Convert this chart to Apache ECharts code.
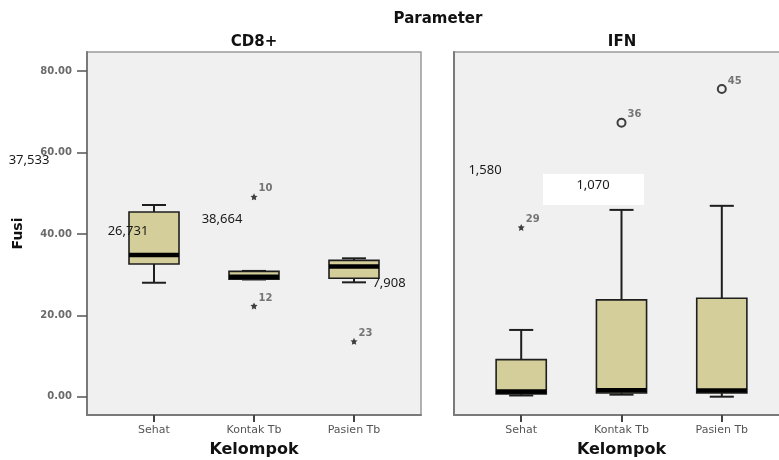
<!DOCTYPE html>
<html>
<head>
<meta charset="utf-8">
<script src="https://cdn.jsdelivr.net/npm/echarts@6/dist/echarts.min.js"></script>
<style>html,body{margin:0;padding:0;background:#fff}#c{width:779px;height:460px}</style>
</head>
<body>
<div id="c"></div>
<script>
var categories = ['Sehat', 'Kontak Tb', 'Pasien Tb'];
var yTicks = [0, 20, 40, 60, 80];
// [min, Q1, median, Q3, max]
var cd8Stats = [
  [28.0, 32.6, 34.8, 45.4, 47.1],
  [28.8, 28.9, 29.5, 30.8, 30.9],
  [28.1, 29.1, 32.0, 33.5, 34.0]
];
var ifnStats = [
  [0.3, 0.7, 1.3, 9.1, 16.4],
  [0.5, 0.9, 1.6, 23.8, 45.9],
  [0.0, 0.9, 1.5, 24.2, 46.9]
];
// [category index, value, case id]
var cd8Extremes = [[1, 49.1, '10'], [1, 22.3, '12'], [2, 13.6, '23']];
var ifnExtremes = [[0, 41.6, '29']];
var ifnOutliers = [[1, 67.3, '36'], [2, 75.6, '45']];
var annotations = [
  ['37,533', 29, 160], ['26,731', 128, 231], ['38,664', 222, 219],
  ['7,908', 389, 283], ['1,580', 485, 170], ['1,070', 593, 185]
];

var chart = echarts.init(document.getElementById('c'), null, {renderer: 'canvas'});

function boxData(stats) {
  return stats.map(function (s, i) { return [i].concat(s); });
}
function renderBox(params, api) {
  var x = api.value(0);
  var pMin = api.coord([x, api.value(1)]);
  var pQ1 = api.coord([x, api.value(2)]);
  var pMed = api.coord([x, api.value(3)]);
  var pQ3 = api.coord([x, api.value(4)]);
  var pMax = api.coord([x, api.value(5)]);
  var unit = api.size([1, 0])[0];
  var hw = unit * 0.25, cw = unit * 0.12, cx = pMed[0];
  var lineStyle = {stroke: '#1e1e1e', lineWidth: 2};
  return {
    type: 'group',
    children: [
      {type: 'line', shape: {x1: cx, y1: pMax[1], x2: cx, y2: pQ3[1]}, style: lineStyle},
      {type: 'line', shape: {x1: cx, y1: pQ1[1], x2: cx, y2: pMin[1]}, style: lineStyle},
      {type: 'line', shape: {x1: cx - cw, y1: pMax[1], x2: cx + cw, y2: pMax[1]}, style: lineStyle},
      {type: 'line', shape: {x1: cx - cw, y1: pMin[1], x2: cx + cw, y2: pMin[1]}, style: lineStyle},
      {type: 'rect', shape: {x: cx - hw, y: pQ3[1], width: hw * 2, height: pQ1[1] - pQ3[1]},
        style: {fill: '#d4ce9a', stroke: '#1e1e1e', lineWidth: 1.6}},
      {type: 'line', shape: {x1: cx - hw, y1: pMed[1], x2: cx + hw, y2: pMed[1]},
        style: {stroke: '#000', lineWidth: 4.5}}
    ]
  };
}

var star = 'path://M0,-10 L2.9,-4 L9.5,-3.1 L4.7,1.5 L5.9,8.1 L0,5 L-5.9,8.1 L-4.7,1.5 L-9.5,-3.1 L-2.9,-4 Z';
var ptLabel = {
  show: true, position: 'right', distance: 1, offset: [0, -8],
  formatter: function (p) { return p.value[2]; },
  fontFamily: 'DejaVu Sans', fontSize: 10, fontWeight: 'bold', color: '#555'
};

function xAxisCfg(idx) {
  return {
    type: 'value', gridIndex: idx, min: -0.67, max: 2.67,
    name: 'Kelompok', nameLocation: 'middle', nameGap: 27,
    nameTextStyle: {fontFamily: 'DejaVu Sans', fontWeight: 'bold', fontSize: 16, color: '#111'},
    axisLine: {show: true, onZero: false, lineStyle: {color: '#7a7a7a', width: 2}},
    axisTick: {show: true, length: 7, customValues: [0, 1, 2], lineStyle: {color: '#444', width: 2}},
    axisLabel: {customValues: [0, 1, 2], margin: 10, formatter: function (v) { return categories[Math.round(v)]; },
      fontFamily: 'DejaVu Sans', fontSize: 11, color: '#555'},
    splitLine: {show: false}
  };
}

var option = {
  backgroundColor: '#fff',
  animation: false,
  grid: [
    {left: 87, top: 52, width: 334, height: 363, outerBoundsMode: 'none', containLabel: false,
      show: true, backgroundColor: '#f0f0f0', borderColor: '#999', borderWidth: 1.5},
    {left: 454, top: 52, width: 335, height: 363, outerBoundsMode: 'none', containLabel: false,
      show: true, backgroundColor: '#f0f0f0', borderColor: '#999', borderWidth: 1.5}
  ],
  xAxis: [xAxisCfg(0), xAxisCfg(1)],
  yAxis: [
    {
      type: 'value', gridIndex: 0, min: -4.5, max: 84.7,
      name: 'Fusi', nameLocation: 'middle', nameGap: 62,
      nameTextStyle: {fontFamily: 'DejaVu Sans', fontWeight: 'bold', fontSize: 14, color: '#111'},
      axisLine: {show: true, onZero: false, lineStyle: {color: '#7a7a7a', width: 2}},
      axisTick: {show: true, length: 10, customValues: yTicks, lineStyle: {color: '#555', width: 1.5}},
      axisLabel: {customValues: yTicks, margin: 15, formatter: function (v) { return v.toFixed(2); },
        fontFamily: 'DejaVu Sans', fontSize: 10, fontWeight: 'bold', color: '#6a6a6a'},
      splitLine: {show: false}
    },
    {
      type: 'value', gridIndex: 1, min: -4.5, max: 84.7,
      axisLine: {show: true, onZero: false, lineStyle: {color: '#7a7a7a', width: 2}},
      axisTick: {show: false}, axisLabel: {show: false}, splitLine: {show: false}
    }
  ],
  series: [
    {type: 'custom', xAxisIndex: 0, yAxisIndex: 0, renderItem: renderBox, data: boxData(cd8Stats), z: 2},
    {type: 'custom', xAxisIndex: 1, yAxisIndex: 1, renderItem: renderBox, data: boxData(ifnStats), z: 2},
    {type: 'scatter', xAxisIndex: 0, yAxisIndex: 0, symbol: star, symbolSize: 7,
      itemStyle: {color: '#111'}, label: ptLabel, data: cd8Extremes, z: 3},
    {type: 'scatter', xAxisIndex: 1, yAxisIndex: 1, symbol: star, symbolSize: 7,
      itemStyle: {color: '#111'}, label: ptLabel, data: ifnExtremes, z: 3},
    {type: 'scatter', xAxisIndex: 1, yAxisIndex: 1, symbol: 'circle', symbolSize: 8,
      itemStyle: {color: 'transparent', borderColor: '#111', borderWidth: 2}, label: ptLabel, data: ifnOutliers, z: 3}
  ],
  graphic: [
    {type: 'text', x: 438, y: 19, style: {text: 'Parameter', align: 'center', verticalAlign: 'middle',
      font: 'bold 15px "DejaVu Sans"', fill: '#111'}},
    {type: 'text', x: 254, y: 42, style: {text: 'CD8+', align: 'center', verticalAlign: 'middle',
      font: 'bold 15px "DejaVu Sans"', fill: '#111'}},
    {type: 'text', x: 622, y: 42, style: {text: 'IFN', align: 'center', verticalAlign: 'middle',
      font: 'bold 15px "DejaVu Sans"', fill: '#111'}},
    {type: 'rect', shape: {x: 543, y: 174, width: 101, height: 31}, style: {fill: '#fff'}, z: 10}
  ].concat(annotations.map(function (a) {
    return {type: 'text', x: a[1], y: a[2], z: 11, style: {text: a[0], align: 'center', verticalAlign: 'middle',
      font: '13px "Noto Sans"', fill: '#1a1a1a'}};
  }))
};
chart.setOption(option);
</script>
</body>
</html>
